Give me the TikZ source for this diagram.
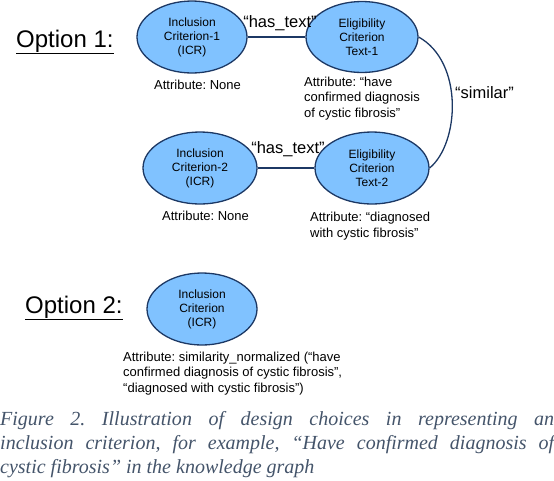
\documentclass[tikz,border=0pt]{standalone}
\usepackage{fontspec}
\setmainfont{Liberation Sans}
\newfontfamily\capfont{Liberation Serif}
\usetikzlibrary{shapes.geometric}
\definecolor{ellfill}{RGB}{128,194,255}
\definecolor{ellline}{RGB}{28,56,100}
\definecolor{capcol}{RGB}{68,84,106}
\tikzset{
  ent/.style={ellipse, draw=ellline, fill=ellfill, line width=1.3pt, inner sep=0pt,
    align=center, font=\fontsize{12}{14}\selectfont},
  link/.style={draw=ellline, line width=1.3pt},
  attr/.style={anchor=base west, inner sep=0pt, align=left, font=\fontsize{13}{15.5}\selectfont},
  elab/.style={inner sep=0pt, font=\fontsize{16.5}{18}\selectfont},
  opt/.style={anchor=base west, inner sep=0pt, font=\fontsize{24}{26}\selectfont}
}
\begin{document}
\frenchspacing
\begin{tikzpicture}[x=1pt,y=-1pt]
\useasboundingbox (0,0) rectangle (554,480);
% option labels
\node[opt] (o1) at (16,47) {\underline{Option 1:}};
\node[opt] (o2) at (25,313) {\underline{Option 2:}};
% entities
\node[ent, minimum width=110pt, minimum height=72pt] (i1) at (192,37) {Inclusion\\Criterion-1\\(ICR)};
\node[ent, minimum width=112pt, minimum height=71pt] (e1) at (362,37) {Eligibility\\Criterion\\Text-1};
\node[ent, minimum width=114pt, minimum height=72pt] (i2) at (200,168) {Inclusion\\Criterion-2\\(ICR)};
\node[ent, minimum width=114pt, minimum height=72pt] (e2) at (372,168) {Eligibility\\Criterion\\Text-2};
\node[ent, minimum width=110pt, minimum height=72pt] (i3) at (202,309) {Inclusion\\Criterion\\(ICR)};
% connectors
\draw[link] (i1) -- (e1);
\draw[link] (i2) -- (e2);
\draw[link] (e1.east) .. controls +(45,25) and +(30,-25) .. (e2.east);
% edge labels
\node[elab, anchor=base] (l1) at (280,27) {“has\_text”};
\node[elab, anchor=base] (l2) at (288,153) {“has\_text”};
\node[elab, anchor=base west] (l3) at (455,98) {“similar”};
% attributes (base = last line)
\node[attr] (a1) at (154,89) {Attribute: None};
\node[attr] (a2) at (304,117) {Attribute: “have\\confirmed diagnosis\\of cystic fibrosis”};
\node[attr] (a3) at (162,220) {Attribute: None};
\node[attr] (a4) at (310,237) {Attribute: “diagnosed\\with cystic fibrosis”};
\node[attr] (a5) at (123,392) {Attribute: similarity\_normalized (“have\\confirmed diagnosis of cystic fibrosis”,\\“diagnosed with cystic fibrosis”)};
% caption
\node[anchor=base west, inner sep=0pt, text width=554pt, align=justify, text=capcol,
  font=\capfont\itshape\fontsize{20}{24}\selectfont] (cap) at (0,425)
  {Figure 2. Illustration of design choices in representing an\linebreak inclusion criterion, for example, “Have confirmed diagnosis of\linebreak cystic fibrosis” in the knowledge graph};
\end{tikzpicture}
\end{document}
